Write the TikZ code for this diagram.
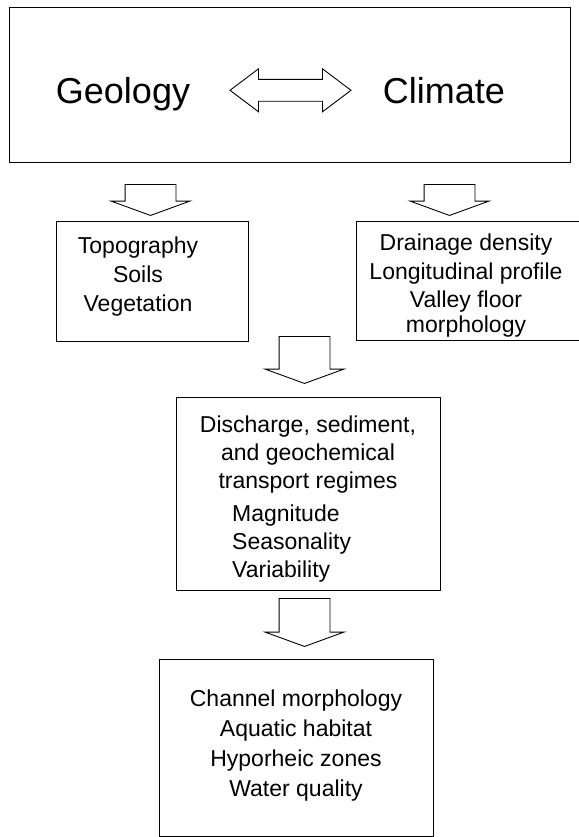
\documentclass[tikz,border=0pt]{standalone}
\usepackage{fontspec}
\setmainfont{Liberation Sans}
\usetikzlibrary{shapes.arrows}

\begin{document}
\begin{tikzpicture}[x=1pt,y=-1pt,
    box/.style={draw,line width=1pt,inner sep=0pt},
    txt/.style={font=\fontsize{23}{30}\selectfont,align=center,inner sep=0pt},
    big txt/.style={font=\fontsize{36}{40}\selectfont,inner sep=0pt,anchor=base},
    flow arrow/.style={single arrow,draw,line width=0.9pt,inner xsep=0pt,inner ysep=25pt,
      minimum width=0pt,single arrow head extend=14pt,single arrow tip angle=140,
      rotate=-90,anchor=tail},
    twin arrow/.style={double arrow,draw,line width=0.9pt,inner xsep=0pt,inner ysep=10.5pt,
      minimum width=0pt,double arrow head extend=10.5pt,double arrow tip angle=74,
      minimum height=121pt}]
  \useasboundingbox (0,0) rectangle (578,837);

  % drivers
  \node[box,minimum width=561pt,minimum height=155pt] (drivers) at (289.5,85.5) {};
  \node[big txt] (geology) at (123,104) {Geology};
  \node[big txt] (climate) at (444,104) {Climate};
  \node[twin arrow] (link) at (290.5,90.3) {};

  \node[flow arrow,minimum height=31pt] (a1) at (150.5,184) {};
  \node[flow arrow,minimum height=31pt] (a2) at (449.5,184) {};

  % landscape
  \node[box,minimum width=192pt,minimum height=120pt] (terrain) at (152,281) {};
  \node[txt,font=\fontsize{23}{29}\selectfont] (terrainlbl) at (138,277)
    {Topography\\Soils\\Vegetation};
  \node[box,minimum width=224pt,minimum height=119pt] (network) at (468,280.5) {};
  \node[txt,font=\fontsize{23}{28.5}\selectfont] (networklbl) at (466,286)
    {Drainage density\\Longitudinal profile\\Valley floor\\[-3.5pt]morphology};

  \node[flow arrow,minimum height=47pt] (a3) at (304.5,336) {};

  % regimes
  \node[box,minimum width=264pt,minimum height=193pt] (regime) at (308,493.5) {};
  \node[txt,font=\fontsize{23}{28}\selectfont] (regimelbl) at (308,455)
    {Discharge, sediment,\\and geochemical\\transport regimes};
  \node[txt,font=\fontsize{23}{28}\selectfont,align=left,anchor=west] (regimelist) at (232,544)
    {Magnitude\\Seasonality\\Variability};

  \node[flow arrow,minimum height=48pt] (a4) at (304.5,598) {};

  % response
  \node[box,minimum width=274pt,minimum height=177pt] (channel) at (296,747.5) {};
  \node[txt] (channellbl) at (296,746)
    {Channel morphology\\Aquatic habitat\\Hyporheic zones\\Water quality};
\end{tikzpicture}
\end{document}
